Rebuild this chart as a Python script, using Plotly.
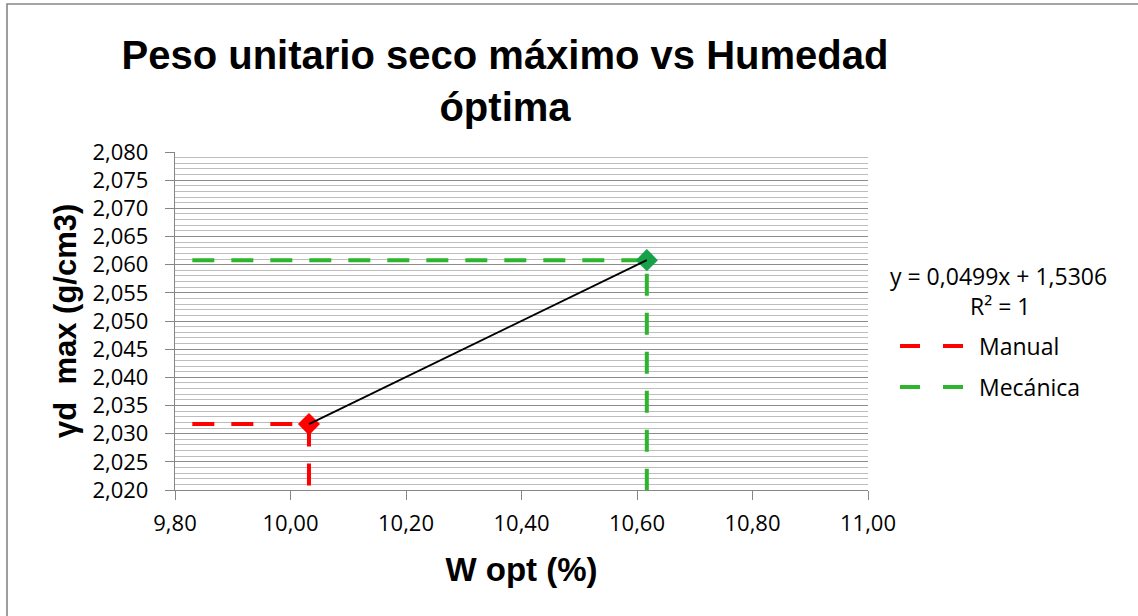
import numpy as np
import plotly.graph_objects as go

# ---- data ----
series_names = ["Manual", "Mecánica"]
w_opt = [10.032, 10.617]          # W opt (%) of each point
gd_max = [2.0317, 2.0608]         # γd max (g/cm3) of each point
guide_x_start = [9.83, 9.83]      # where the horizontal dashed guides start
guide_y_floor = [2.020, 2.020]    # where the vertical dashed guides end
line_colors = ["#FF0000", "#2DB52D"]
marker_colors = ["#FF0000", "#17A24A"]
equation_text = "y = 0,0499x + 1,5306"
r2_text = "R² = 1"

x_ticks = [9.8, 10.0, 10.2, 10.4, 10.6, 10.8, 11.0]

# plot area in pixels (for layout helpers)
L, R, T, B = 175, 868, 152, 490
W, H = R - L, B - T


def px(x):
    return (x - L) / W


def py(y):
    return (B - y) / H


REG = "Open Sans"
BOLD = "Liberation Sans, Arial"

fig = go.Figure()

for i, name in enumerate(series_names):
    fig.add_trace(go.Scatter(
        x=[guide_x_start[i], w_opt[i], w_opt[i]],
        y=[gd_max[i], gd_max[i], guide_y_floor[i]],
        mode="lines",
        line=dict(color=line_colors[i], width=4, dash="22px,17px"),
        name=name, showlegend=False, hoverinfo="skip",
    ))
    fig.add_trace(go.Scatter(
        x=[w_opt[i]], y=[gd_max[i]], mode="markers",
        marker=dict(symbol="diamond", size=17, color=marker_colors[i]),
        name=name, showlegend=False,
    ))

# linear trendline through both points
coef = np.polyfit(w_opt, gd_max, 1)
tx = np.array([min(w_opt), max(w_opt)])
fig.add_trace(go.Scatter(
    x=tx, y=np.polyval(coef, tx), mode="lines",
    line=dict(color="#000000", width=1.8), showlegend=False, hoverinfo="skip",
))

shapes = []
annotations = []

# outer chart border
shapes.append(dict(type="rect", xref="paper", yref="paper",
                   x0=px(7), x1=px(1150), y0=py(630), y1=py(4),
                   line=dict(color="#868686", width=1.6), layer="below"))

# y axis title
annotations.append(dict(xref="paper", yref="paper", x=px(65), y=py(321),
                        text="γd  max (g/cm3)", showarrow=False, textangle=-90,
                        font=dict(family=BOLD, size=31, color="#000000", weight="bold"),
                        xanchor="center", yanchor="middle"))

# custom legend
annotations.append(dict(xref="paper", yref="paper", x=px(998), y=py(276),
                        text=equation_text, showarrow=False,
                        font=dict(family=REG, size=23, color="#000000"),
                        xanchor="center", yanchor="middle"))
annotations.append(dict(xref="paper", yref="paper", x=px(1000), y=py(306),
                        text=r2_text, showarrow=False,
                        font=dict(family=REG, size=23, color="#000000"),
                        xanchor="center", yanchor="middle"))
for i, name in enumerate(series_names):
    yy = py(346 + 41 * i)
    for (a, b) in [(900, 920), (943, 963)]:
        shapes.append(dict(type="line", xref="paper", yref="paper",
                           x0=px(a), x1=px(b), y0=yy, y1=yy,
                           line=dict(color=line_colors[i], width=4)))
    annotations.append(dict(xref="paper", yref="paper", x=px(977), y=yy,
                            text=name, showarrow=False,
                            font=dict(family=REG, size=23, color="#000000"),
                            xanchor="left", yanchor="middle"))

fig.update_layout(
    width=1138, height=616,
    margin=dict(l=L, r=1138 - R, t=T, b=616 - B),
    paper_bgcolor="#FFFFFF", plot_bgcolor="#FFFFFF",
    separators=",.",
    showlegend=False,
    title=dict(text="Peso unitario seco máximo vs Humedad<br>óptima",
               x=505 / 1138, xanchor="center", xref="container",
               y=1 - 69 / 616, yanchor="top",
               font=dict(family=BOLD, size=40, color="#000000", weight="bold")),
    shapes=shapes, annotations=annotations,
    xaxis=dict(
        range=[9.8, 11.0], tickvals=x_ticks, tickformat=".2f",
        showgrid=False, zeroline=False,
        showline=True, linecolor="#868686", linewidth=1.3,
        ticks="outside", ticklen=9, tickcolor="#868686", tickwidth=1.3,
        tickfont=dict(family=REG, size=22, color="#000000"),
        ticklabelstandoff=4,
        title=dict(text="W opt (%)", standoff=22,
                   font=dict(family=BOLD, size=33, color="#000000", weight="bold")),
    ),
    yaxis=dict(
        range=[2.020, 2.080], dtick=0.005, tick0=2.020, tickformat=".3f",
        showgrid=True, gridcolor="#8C8C8C", gridwidth=1,
        minor=dict(dtick=0.001, showgrid=True, gridcolor="#BDBDBD", gridwidth=1),
        zeroline=False,
        showline=True, linecolor="#868686", linewidth=1.3,
        ticks="outside", ticklen=9, tickcolor="#868686", tickwidth=1.3,
        tickfont=dict(family=REG, size=22, color="#000000"),
        ticklabelstandoff=12,
    ),
)

fig.write_html("out.html", config={"displayModeBar": False},
               post_script="document.body.style.margin='0px';")
